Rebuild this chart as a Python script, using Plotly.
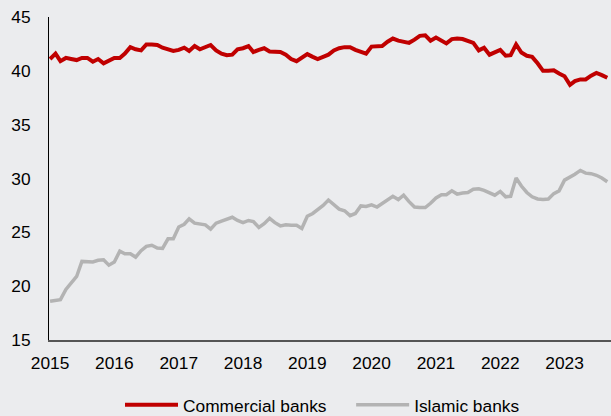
import pandas as pd
import plotly.graph_objects as go

dates = pd.date_range("2015-01-01", periods=105, freq="MS")

commercial = [
    41.1, 41.6, 40.9, 41.2, 41.1, 41.0, 41.2, 41.2, 40.85, 41.1, 40.7, 40.9,
    41.2, 41.2, 41.6, 42.2, 42.0, 41.9, 42.45, 42.45, 42.4, 42.15, 42.0, 41.85,
    41.95, 42.15, 41.85, 42.3, 42.0, 42.2, 42.4, 41.9, 41.6, 41.45, 41.5, 42.0,
    42.1, 42.3, 41.75, 41.95, 42.1, 41.8, 41.8, 41.75, 41.5, 41.1, 40.9, 41.2,
    41.55, 41.3, 41.1, 41.3, 41.5, 41.9, 42.1, 42.2, 42.2, 41.95, 41.8, 41.6,
    42.25, 42.3, 42.3, 42.7, 43.0, 42.8, 42.7, 42.6, 42.9, 43.25, 43.3, 42.8,
    43.1, 42.8, 42.55, 42.95, 43.0, 42.95, 42.8, 42.6, 41.9, 42.15, 41.5, 41.7,
    41.95, 41.4, 41.45, 42.45, 41.7, 41.4, 41.3, 40.7, 40.0, 40.0, 40.05, 39.75,
    39.5, 38.7, 39.05, 39.2, 39.2, 39.55, 39.8, 39.6, 39.35,
]

islamic = [
    18.6, 18.7, 18.75, 19.7, 20.3, 20.9, 22.3, 22.3, 22.25, 22.4, 22.45, 21.95,
    22.25, 23.25, 23.0, 23.0, 22.7, 23.3, 23.7, 23.8, 23.55, 23.5, 24.4, 24.4,
    25.5, 25.75, 26.25, 25.85, 25.8, 25.7, 25.3, 25.85, 26.05, 26.2, 26.4, 26.1,
    25.9, 26.1, 26.0, 25.45, 25.8, 26.3, 25.9, 25.6, 25.7, 25.65, 25.65, 25.35,
    26.5, 26.75, 27.1, 27.5, 28.0, 27.6, 27.15, 27.0, 26.55, 26.75, 27.45, 27.4,
    27.55, 27.35, 27.65, 28.05, 28.35, 28.05, 28.45, 27.85, 27.35, 27.3, 27.3, 27.7,
    28.2, 28.5, 28.5, 28.85, 28.55, 28.65, 28.7, 29.0, 29.05, 28.9, 28.65, 28.45,
    28.8, 28.3, 28.35, 30.05, 29.3, 28.7, 28.3, 28.1, 28.05, 28.1, 28.6, 28.85,
    29.85, 30.1, 30.4, 30.75, 30.5, 30.45, 30.3, 30.05, 29.7,
]

y_ticks = [15, 20, 25, 30, 35, 40, 45]

fig = go.Figure()
fig.add_trace(go.Scatter(x=dates, y=commercial, mode="lines", name="Commercial banks",
                         line=dict(color="#C00000", width=4), legend="legend"))
fig.add_trace(go.Scatter(x=dates, y=islamic, mode="lines", name="Islamic banks",
                         line=dict(color="#B3B3B3", width=3.5), legend="legend2"))

bg = "#EBECEE"
FS = 17.33
leg_common = dict(orientation="h", xref="container", yref="container",
                  y=0.0264, yanchor="middle", xanchor="left",
                  itemwidth=53, bgcolor="rgba(0,0,0,0)", font=dict(size=FS))
fig.update_layout(
    width=611, height=416,
    margin=dict(l=49, r=0, t=17, b=76),
    paper_bgcolor=bg, plot_bgcolor=bg,
    font=dict(family="Liberation Sans, Arial, sans-serif", size=FS, color="#000000"),
    showlegend=True,
    legend=dict(x=0.1964, **leg_common),
    legend2=dict(x=0.5747, **leg_common),
    xaxis=dict(
        type="date",
        range=["2014-12-26", "2023-09-22"],
        tickformat="%Y", dtick="M12", tick0="2015-01-01",
        showgrid=False, zeroline=False, automargin=False,
        showline=True, linecolor="#555555", linewidth=1.5,
        ticks="", ticklabelstandoff=6,
    ),
    yaxis=dict(
        range=[15, 45], tickvals=y_ticks,
        showgrid=False, zeroline=False, automargin=False,
        showline=True, linecolor="#000000", linewidth=1,
        ticks="", ticklabelstandoff=14,
    ),
)

fig.write_html("out.html",
               config={"displayModeBar": False},
               post_script="document.body.style.margin='0';document.body.style.overflow='hidden';")
